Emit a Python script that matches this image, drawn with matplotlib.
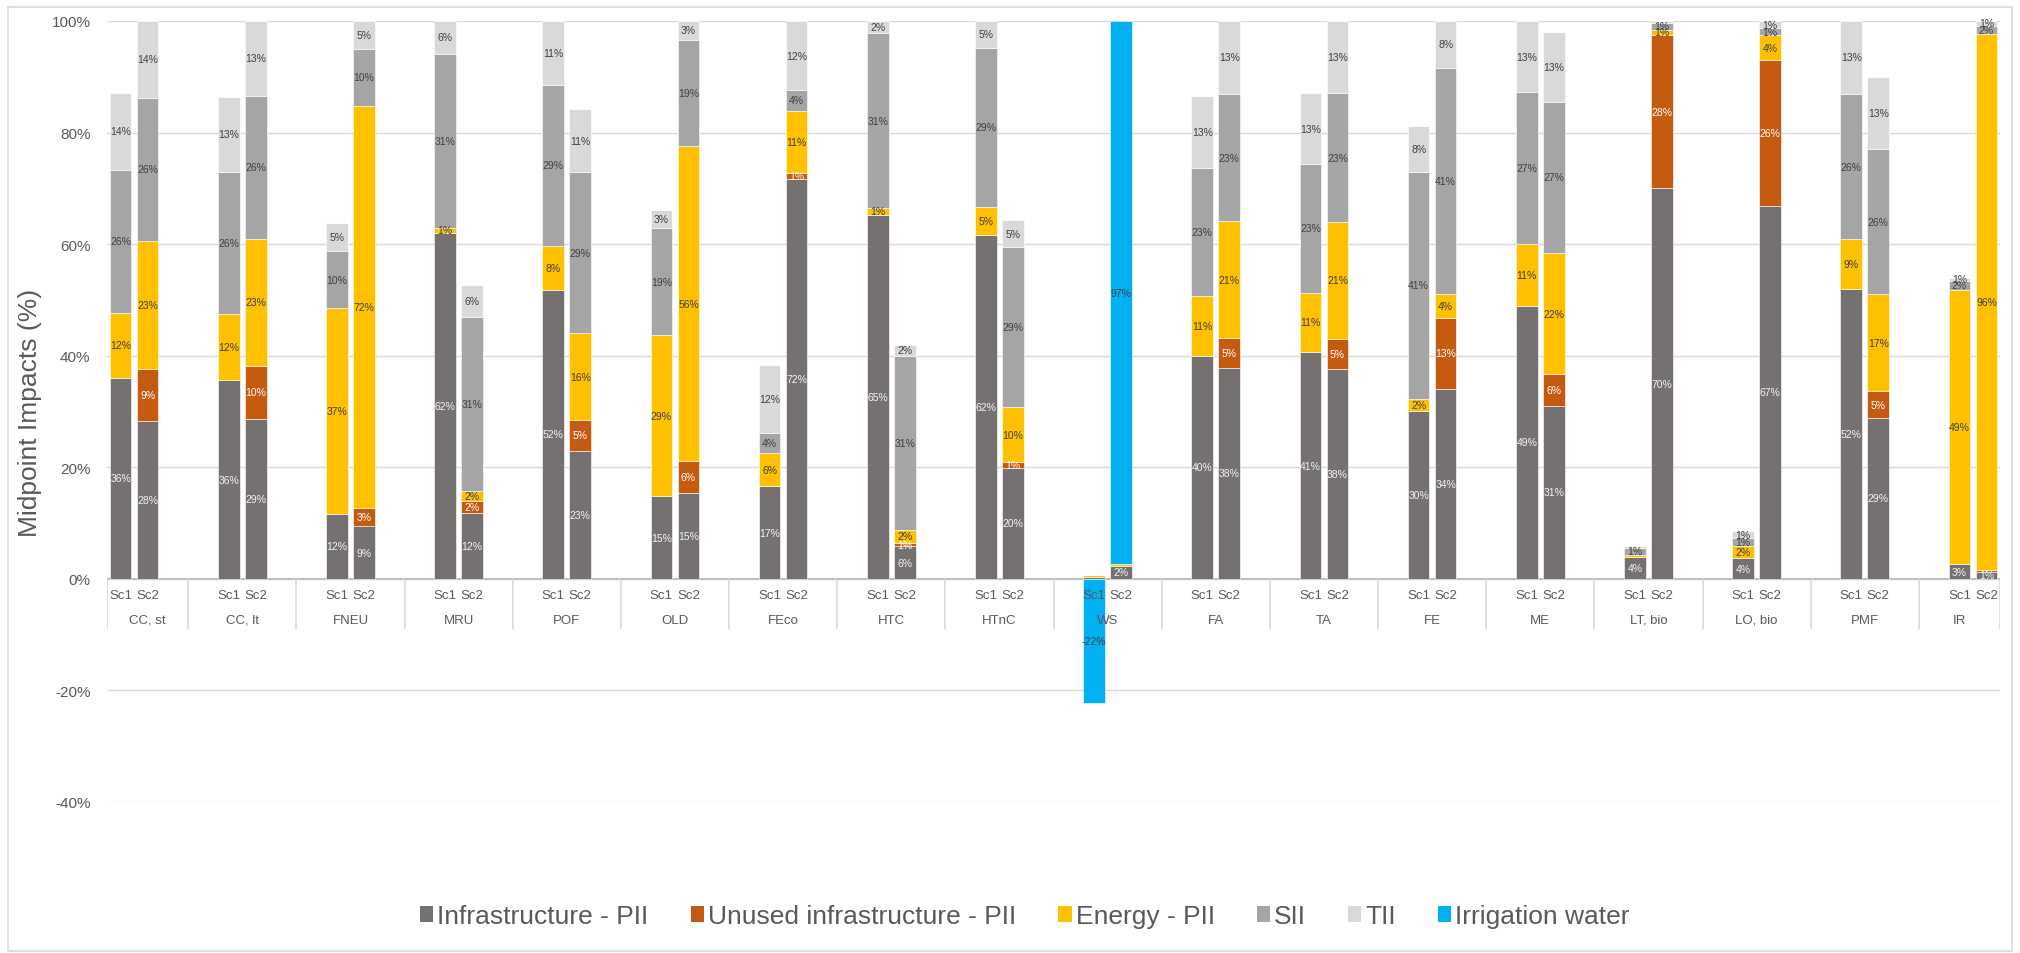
import matplotlib
matplotlib.use('Agg')
import matplotlib.pyplot as plt
from matplotlib.patches import Patch, Rectangle

plt.rcParams['font.family'] = ['Liberation Sans', 'DejaVu Sans']

categories = ['CC, st', 'CC, lt', 'FNEU', 'MRU', 'POF', 'OLD', 'FEco', 'HTC', 'HTnC',
              'WS', 'FA', 'TA', 'FE', 'ME', 'LT, bio', 'LO, bio', 'PMF', 'IR']
scenarios = ['Sc1', 'Sc2']

# midpoint impact shares (%), one list per scenario and contribution
infra_sc1 = [36.0, 35.6, 11.7, 62.0, 51.8, 14.8, 16.6, 65.3, 61.6, 0.3, 40.0, 40.6, 30.1, 48.9, 3.9, 3.7, 51.9, 2.6]
infra_sc2 = [28.3, 28.6, 9.4, 11.8, 23.0, 15.3, 71.6, 5.8, 19.9, 2.3, 37.8, 37.6, 34.0, 31.0, 70.0, 66.8, 28.8, 1.3]
unused_sc1 = [0.0] * 18
unused_sc2 = [9.4, 9.6, 3.3, 2.2, 5.4, 5.9, 1.1, 0.7, 1.0, 0.0, 5.3, 5.4, 12.8, 5.7, 27.5, 26.2, 4.8, 0.3]
energy_sc1 = [11.7, 11.8, 36.8, 0.9, 7.9, 28.9, 5.9, 1.2, 5.0, 0.3, 10.7, 10.7, 2.2, 11.2, 0.4, 2.2, 9.0, 49.2]
energy_sc2 = [22.9, 22.8, 72.1, 1.8, 15.6, 56.3, 11.2, 2.2, 9.9, 0.3, 21.0, 21.0, 4.2, 21.7, 0.9, 4.4, 17.4, 96.0]
sii_sc1 = [25.6, 25.6, 10.2, 31.2, 28.9, 19.1, 3.6, 31.3, 28.6, 0.0, 23.0, 23.0, 40.7, 27.1, 1.2, 1.4, 26.0, 1.6]
sii_sc2 = [25.6, 25.6, 10.2, 31.2, 28.9, 19.1, 3.7, 31.3, 28.6, 0.0, 22.8, 23.0, 40.6, 27.1, 1.3, 1.3, 26.1, 1.5]
tii_sc1 = [13.8, 13.3, 5.1, 5.9, 11.4, 3.3, 12.3, 2.2, 4.8, 0.0, 12.9, 12.8, 8.1, 12.8, 0.4, 1.2, 13.1, 0.6]
tii_sc2 = [13.8, 13.4, 5.0, 5.7, 11.3, 3.4, 12.4, 2.0, 4.9, 0.0, 13.1, 13.0, 8.4, 12.6, 0.2, 1.3, 12.8, 0.9]
water_sc1 = [0.0] * 9 + [-22.3] + [0.0] * 8
water_sc2 = [0.0] * 9 + [97.4] + [0.0] * 8

series = [
    ('Infrastructure - PII', '#767171', '#f2f2f2', infra_sc1, infra_sc2),
    ('Unused infrastructure - PII', '#c55a11', '#ffffff', unused_sc1, unused_sc2),
    ('Energy - PII', '#ffc000', '#404040', energy_sc1, energy_sc2),
    ('SII', '#a5a5a5', '#404040', sii_sc1, sii_sc2),
    ('TII', '#d9d9d9', '#404040', tii_sc1, tii_sc2),
    ('Irrigation water', '#00b0f0', '#404040', water_sc1, water_sc2),
]

fig = plt.figure(figsize=(20.2, 9.54), dpi=100)
ax = fig.add_axes([0.0530, 0.1583, 0.9371, 0.8187])
fig.patches.append(Rectangle((0.004, 0.002), 0.992, 0.99, transform=fig.transFigure,
                             fill=False, edgecolor='#d9d9d9', lw=1.2))

# four slots per category: Sc1, Sc2 and a blank slot either side
n = len(categories)
pos = {0: [4 * g for g in range(n)], 1: [4 * g + 1 for g in range(n)]}
width = 0.8

for s in (0, 1):
    top = [0.0] * n
    neg = [0.0] * n
    for name, color, tcolor, v1, v2 in series:
        vals = v1 if s == 0 else v2
        bottoms = [neg[i] if v < 0 else top[i] for i, v in enumerate(vals)]
        ax.bar(pos[s], vals, width=width, bottom=bottoms, color=color,
               edgecolor='white', linewidth=0.4, zorder=2)
        for i, v in enumerate(vals):
            if abs(v) >= 0.5:
                ax.text(pos[s][i], bottoms[i] + v / 2, f'{round(v):.0f}%', ha='center',
                        va='center', fontsize=7.5, color=tcolor, zorder=4)
            if v < 0:
                neg[i] += v
            else:
                top[i] += v

xmin, xmax = -0.5, 4 * n - 2.5
ax.set_xlim(xmin, xmax)
ax.set_ylim(-40, 100)
ax.set_yticks(range(-40, 101, 20))
ax.set_yticklabels([f'{t}%' for t in range(-40, 101, 20)])
ax.tick_params(axis='y', length=0, pad=12, labelsize=11, labelcolor='#595959')
ax.set_xticks([])
for sp in ax.spines.values():
    sp.set_visible(False)
ax.grid(axis='y', color='#d9d9d9', lw=1)
ax.set_axisbelow(True)
ax.axhline(0, color='#bfbfbf', lw=1.5, zorder=1.5)

ax.set_ylabel('Midpoint Impacts (%)', fontsize=19, color='#595959')
ax.yaxis.set_label_coords(-0.0343, 0.5)

# two-level category axis drawn under the zero line
seps = [xmin] + [4 * g + 2.5 for g in range(n - 1)] + [xmax]
for g, cat in enumerate(categories):
    for s in (0, 1):
        ax.text(pos[s][g], -2.9, scenarios[s], ha='center', va='center',
                fontsize=9.5, color='#595959', zorder=3)
    ax.text((seps[g] + seps[g + 1]) / 2, -7.3, cat, ha='center', va='center',
            fontsize=9.5, color='#595959', zorder=3)
ax.vlines(seps, -9, 0, color='#d9d9d9', lw=1.2, zorder=1.5)

handles = [Patch(facecolor=c, label=name) for name, c, _, _, _ in series]
fig.legend(handles=handles, loc='center', bbox_to_anchor=(1025 / 2020, 1 - 917 / 954),
           ncol=6, frameon=False, fontsize=19, labelcolor='#595959',
           handlelength=0.5, handleheight=0.55, handletextpad=0.15, columnspacing=1.6)

fig.savefig('out.png', dpi=100)
